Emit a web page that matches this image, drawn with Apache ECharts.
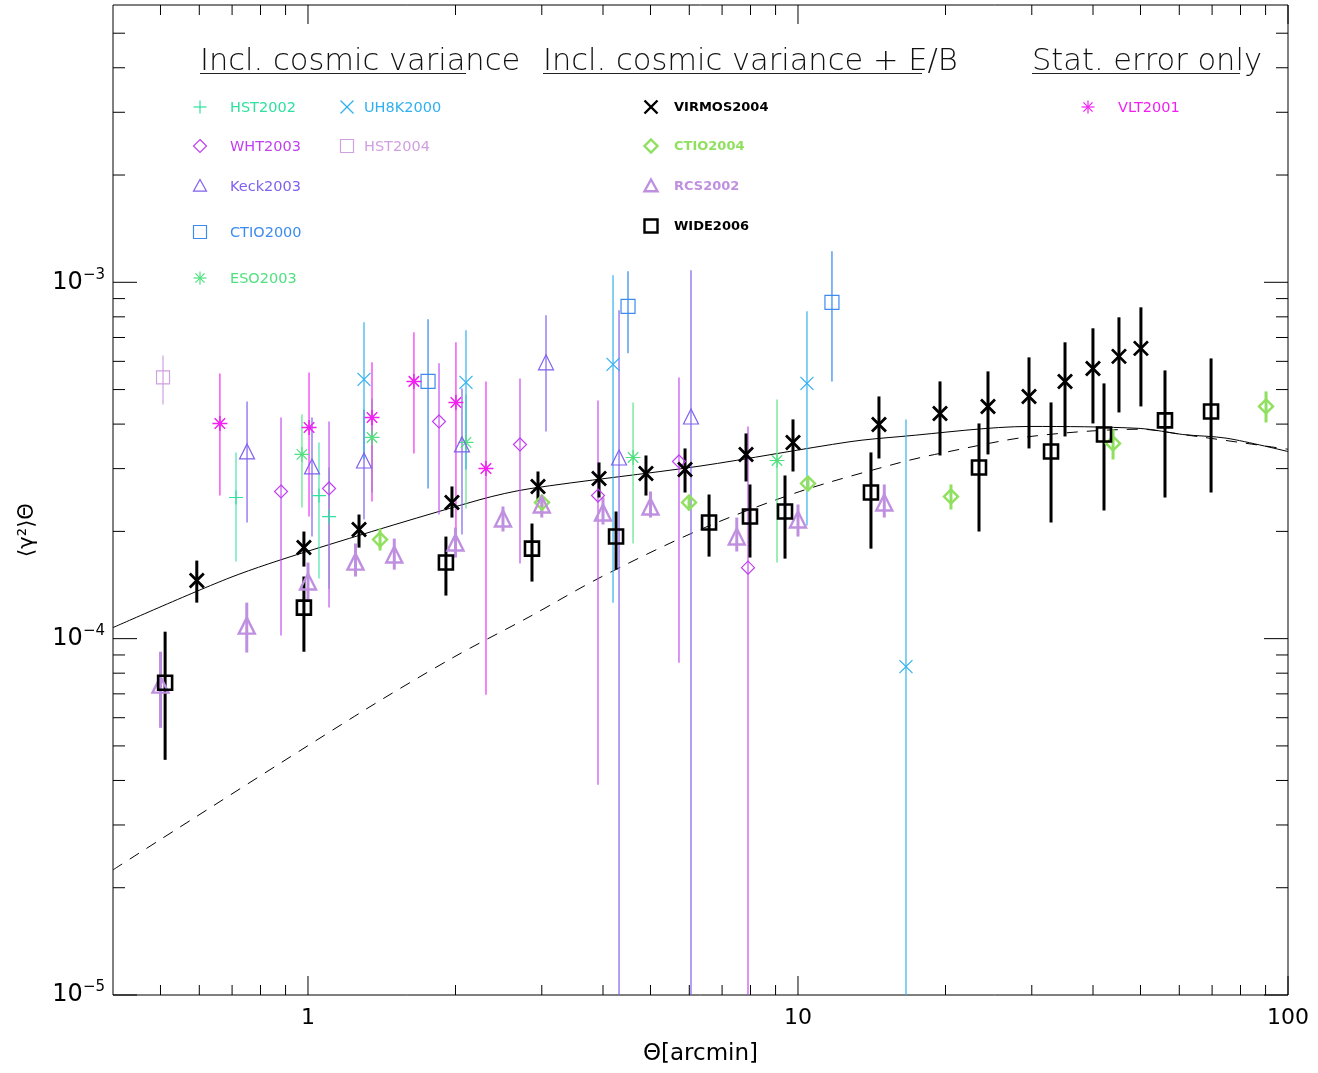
<!DOCTYPE html>
<html><head><meta charset="utf-8">
<script src="https://cdn.jsdelivr.net/npm/echarts@6/dist/echarts.min.js"></script>
<style>html,body{margin:0;padding:0;background:#fff}#c{width:1318px;height:1073px}</style>
</head><body><div id="c"></div>
<script>
// ---------- data: [theta(arcmin), <gamma^2>, lower, upper] ----------
const VIRMOS2004 = [
 [0.593,1.456e-4,1.262e-4,1.656e-4],[0.981,1.801e-4,1.593e-4,1.998e-4],[1.271,2.024e-4,1.801e-4,2.230e-4],
 [1.967,2.410e-4,2.187e-4,2.673e-4],[2.947,2.673e-4,2.426e-4,2.945e-4],[3.926,2.814e-4,2.489e-4,3.122e-4],
 [4.895,2.908e-4,2.521e-4,3.266e-4],[5.881,2.983e-4,2.571e-4,3.418e-4],[7.833,3.288e-4,2.761e-4,3.765e-4],
 [9.768,3.553e-4,2.945e-4,4.123e-4],[14.63,3.991e-4,3.203e-4,4.783e-4],[19.49,4.285e-4,3.266e-4,5.271e-4],
 [24.42,4.484e-4,3.288e-4,5.623e-4],[29.61,4.783e-4,3.418e-4,6.157e-4],[35.07,5.271e-4,3.693e-4,6.785e-4],
 [39.99,5.733e-4,4.017e-4,7.428e-4],[45.19,6.196e-4,4.313e-4,7.975e-4],[50.1,6.525e-4,4.484e-4,8.507e-4]
];
const WIDE2006 = [
 [0.511,0.752e-4,0.457e-4,1.046e-4],[0.981,1.222e-4,0.919e-4,1.494e-4],[1.912,1.635e-4,1.321e-4,1.934e-4],
 [2.865,1.789e-4,1.446e-4,2.104e-4],[4.253,1.934e-4,1.562e-4,2.274e-4],[6.584,2.118e-4,1.699e-4,2.538e-4],
 [7.980,2.201e-4,1.689e-4,2.708e-4],[9.408,2.274e-4,1.677e-4,2.870e-4],[14.09,2.571e-4,1.789e-4,3.331e-4],
 [23.41,3.022e-4,1.998e-4,4.017e-4],[32.84,3.352e-4,2.118e-4,4.601e-4],[42.12,3.741e-4,2.289e-4,5.203e-4],
 [56.10,4.097e-4,2.489e-4,5.659e-4],[69.66,4.341e-4,2.571e-4,6.115e-4]
];
const CTIO2004 = [
 [1.403,1.897e-4,1.767e-4,2.037e-4],[3.003,2.410e-4,2.289e-4,2.521e-4],[5.993,2.410e-4,2.289e-4,2.521e-4],
 [10.48,2.725e-4,2.621e-4,2.833e-4],[20.52,2.505e-4,2.303e-4,2.708e-4],[43.95,3.530e-4,3.183e-4,3.865e-4],
 [90.19,4.484e-4,4.043e-4,4.941e-4]
];
const RCS2002 = [
 [0.5,0.743e-4,0.562e-4,0.919e-4],[0.75,1.088e-4,0.914e-4,1.262e-4],[1.0,1.446e-4,1.287e-4,1.635e-4],
 [1.25,1.645e-4,1.494e-4,1.849e-4],[1.5,1.722e-4,1.562e-4,1.909e-4],[2.0,1.861e-4,1.689e-4,2.050e-4],
 [2.5,2.173e-4,1.998e-4,2.349e-4],[3.0,2.379e-4,2.187e-4,2.505e-4],[4.0,2.259e-4,2.090e-4,2.489e-4],
 [5.0,2.349e-4,2.187e-4,2.588e-4],[7.5,1.934e-4,1.756e-4,2.187e-4],[10,2.159e-4,1.934e-4,2.379e-4],
 [15,2.410e-4,2.187e-4,2.708e-4]
];
const HST2002 = [
 [0.713,2.489e-4,1.645e-4,3.331e-4],[1.053,2.521e-4,1.474e-4,3.553e-4],[1.104,2.201e-4,1.381e-4,3.022e-4]
];
const WHT2003 = [
 [0.881,2.588e-4,1.020e-4,4.176e-4],[1.104,2.639e-4,1.222e-4,4.069e-4],[1.851,4.069e-4,2.230e-4,5.923e-4],
 [2.708,3.507e-4,1.624e-4,5.374e-4],[3.907,2.521e-4,0.389e-4,4.661e-4],[5.716,3.142e-4,0.856e-4,5.409e-4],
 [7.906,1.582e-4,1e-6,3.940e-4]
];
const Keck2003 = [
 [0.751,3.352e-4,2.118e-4,4.631e-4],[1.019,3.042e-4,1.934e-4,4.176e-4],[1.301,3.162e-4,2.159e-4,4.398e-4],
 [2.062,3.507e-4,1.959e-4,5.037e-4],[3.060,5.963e-4,3.815e-4,8.077e-4],[4.313,3.224e-4,1e-6,8.344e-4],
 [6.048,4.202e-4,1e-6,10.81e-4]
];
const CTIO2000 = [
 [1.758,5.271e-4,2.639e-4,7.872e-4],[4.499,8.563e-4,6.318e-4,10.74e-4],[11.73,8.786e-4,5.271e-4,12.22e-4]
];
const UH8K2000 = [
 [1.301,5.340e-4,3.183e-4,7.720e-4],[2.101,5.237e-4,2.983e-4,7.332e-4],[4.193,5.885e-4,1.262e-4,10.46e-4],
 [10.43,5.203e-4,2.077e-4,8.290e-4],[16.61,0.8345e-4,1e-6,4.123e-4]
];
const HST2004 = [[0.506,5.409e-4,4.542e-4,6.236e-4]];
const ESO2003 = [
 [0.972,3.288e-4,2.333e-4,4.257e-4],[1.351,3.669e-4,2.571e-4,4.723e-4],[2.101,3.553e-4,2.317e-4,4.847e-4],
 [4.607,3.224e-4,1.849e-4,4.601e-4],[9.061,3.162e-4,1.635e-4,4.692e-4]
];
const VLT2001 = [
 [0.661,4.017e-4,2.521e-4,5.551e-4],[1.005,3.914e-4,2.201e-4,5.587e-4],[1.351,4.176e-4,2.426e-4,5.963e-4],
 [1.645,5.271e-4,3.309e-4,7.237e-4],[2.004,4.601e-4,1.897e-4,6.785e-4],[2.308,3.002e-4,0.696e-4,5.271e-4]
];
// model curves
const solidTheta = [0.4,0.693,1.0,2.244,2.838,6.31,12.77,16.16,29.7,49.9,61.0,75.1,100];
const solidValue = [1.074e-4,1.483e-4,1.76e-4,2.455e-4,2.636e-4,3.05e-4,3.57e-4,3.69e-4,3.94e-4,3.89e-4,3.74e-4,3.65e-4,3.35e-4];
const dashedTheta = [0.4,1.277,1.977,2.838,3.944,6.31,10.09,16.16,19.49,29.7,49.9,61.0,100];
const dashedValue = [2.245e-5,6.19e-5,8.85e-5,1.154e-4,1.484e-4,2.023e-4,2.588e-4,3.12e-4,3.31e-4,3.69e-4,3.87e-4,3.74e-4,3.40e-4];
// axis ticks
const xMajorTicks = [1,10,100];
const xMinorTicks = [0.5,0.6,0.7,0.8,0.9,2,3,4,5,6,7,8,9,20,30,40,50,60,70,80,90];
const yMajorTicks = [1e-5,1e-4,1e-3];
const yMinorTicks = [2e-5,3e-5,4e-5,5e-5,6e-5,7e-5,8e-5,9e-5,2e-4,3e-4,4e-4,5e-4,6e-4,7e-4,8e-4,9e-4,2e-3,3e-3,4e-3,5e-3];
const headers = ['Incl. cosmic variance','Incl. cosmic variance + E/B','Stat. error only'];

// ---------- styling ----------
const FONT = "'DejaVu Sans', sans-serif";
const P = {
 plus:'M0,5L10,5M5,0L5,10',
 cross:'M0,0L10,10M10,0L0,10',
 star:'M0,5L10,5M5,0L5,10M1.5,1.5L8.5,8.5M8.5,1.5L1.5,8.5',
 diamond:'M5,0L10,5L5,10L0,5Z',
 tri:'M5,0L10,9L0,9Z',
 square:'M0,0L10,0L10,10L0,10Z'
};
const sets = [
 {name:'HST2004', data:HST2004, color:'#d0a0e0', sym:'square', size:13, lw:1.2, ew:1.5, op:0.8, lx:347, tx:364, ly:146},
 {name:'HST2002', data:HST2002, color:'#30e0a0', sym:'plus', size:14, lw:1.2, ew:1.5, op:0.7, lx:200, tx:230, ly:107},
 {name:'ESO2003', data:ESO2003, color:'#50e080', sym:'star', size:15, lw:1.2, ew:1.5, op:0.75, lx:200, tx:230, ly:278},
 {name:'WHT2003', data:WHT2003, color:'#c040f0', sym:'diamond', size:13, lw:1.2, ew:1.5, op:0.75, lx:200, tx:230, ly:146},
 {name:'Keck2003', data:Keck2003, color:'#8060f0', sym:'tri', size:15, lw:1.2, ew:1.5, op:0.8, lx:200, tx:230, ly:186},
 {name:'CTIO2000', data:CTIO2000, color:'#3c8cf0', sym:'square', size:14, lw:1.2, ew:1.5, op:0.85, lx:200, tx:230, ly:232},
 {name:'UH8K2000', data:UH8K2000, color:'#30b0f0', sym:'cross', size:13, lw:1.2, ew:1.5, op:0.8, lx:347, tx:364, ly:107},
 {name:'VLT2001', data:VLT2001, color:'#f020f0', sym:'star', size:15, lw:1.5, ew:1.5, op:0.75, lx:1088, tx:1118, ly:107},
 {name:'CTIO2004', data:CTIO2004, color:'#90e060', sym:'diamond', size:14, lw:2.4, ew:3, op:1, lx:651, tx:674, ly:146, bold:true},
 {name:'RCS2002', data:RCS2002, color:'#c090e0', sym:'tri', size:16, lw:2.4, ew:3, op:1, lx:651, tx:674, ly:186, bold:true},
 {name:'WIDE2006', data:WIDE2006, color:'#000000', sym:'square', size:14, lw:2.6, ew:3, op:1, lx:651, tx:674, ly:226, bold:true},
 {name:'VIRMOS2004', data:VIRMOS2004, color:'#000000', sym:'cross', size:14, lw:2.8, ew:3, op:1, lx:651, tx:674, ly:107, bold:true}
];

const series = [];
series.push({type:'line', data:solidTheta.map((t,i)=>[t,solidValue[i]]), showSymbol:false, smooth:0.3,
  lineStyle:{color:'#000', width:1}, z:1, silent:true});
series.push({type:'line', data:dashedTheta.map((t,i)=>[t,dashedValue[i]]), showSymbol:false, smooth:0.3,
  lineStyle:{color:'#000', width:1, type:[11,9]}, z:1, silent:true});

sets.forEach((s,k)=>{
  series.push({
    type:'custom', name:s.name+' err', z:2+k*0.01, silent:true,
    data:s.data.map(r=>[r[0],r[2],r[3]]), encode:{x:0,y:[1,2]},
    renderItem:(params, api)=>{
      const cs = params.coordSys;
      const a = api.coord([api.value(0), api.value(1)]);
      const b = api.coord([api.value(0), api.value(2)]);
      const y1 = Math.min(a[1], cs.y+cs.height), y2 = Math.max(b[1], cs.y);
      return {type:'line', shape:{x1:a[0],y1:y1,x2:a[0],y2:y2}, style:{stroke:s.color, lineWidth:s.ew, opacity:s.op}};
    }
  });
  series.push({
    type:'scatter', name:s.name, z:3+k*0.01, silent:true,
    data:s.data.map(r=>[r[0],r[1]]),
    symbol:'path://'+P[s.sym], symbolSize:s.size,
    itemStyle:{color:'rgba(0,0,0,0)', borderColor:s.color, borderWidth:s.lw, opacity:1}
  });
});

// ticks on all four sides
series.push({type:'custom', z:5, silent:true,
  data:xMajorTicks.map(v=>[v,1e-3,1]).concat(xMinorTicks.map(v=>[v,1e-3,0])), encode:{x:0,y:1},
  renderItem:(params, api)=>{
    const cs = params.coordSys; const x = api.coord([api.value(0),1e-3])[0];
    const len = api.value(2) ? 19 : 10; const bot = cs.y+cs.height;
    return {type:'group', children:[
      {type:'line', shape:{x1:x,y1:bot,x2:x,y2:bot-len}, style:{stroke:'#000',lineWidth:1}},
      {type:'line', shape:{x1:x,y1:cs.y,x2:x,y2:cs.y+len}, style:{stroke:'#000',lineWidth:1}}]};
  }});
series.push({type:'custom', z:5, silent:true,
  data:yMajorTicks.map(v=>[1,v,1]).concat(yMinorTicks.map(v=>[1,v,0])), encode:{x:0,y:1},
  renderItem:(params, api)=>{
    const cs = params.coordSys; const y = api.coord([1,api.value(1)])[1];
    const len = api.value(2) ? 24 : 12; const r = cs.x+cs.width;
    return {type:'group', children:[
      {type:'line', shape:{x1:cs.x,y1:y,x2:cs.x+len,y2:y}, style:{stroke:'#000',lineWidth:1}},
      {type:'line', shape:{x1:r,y1:y,x2:r-len,y2:y}, style:{stroke:'#000',lineWidth:1}}]};
  }});

// legend symbols built from simple graphic primitives (parsed from the same symbol paths)
function symbolElems(pathStr, cx, cy, sz, color, lw){
  const out = [];
  const parts = pathStr.match(/[MLZ][^MLZ]*/g);
  let cur = null;
  const flush = (closed)=>{ if(cur && cur.length>1){ out.push({type: closed?'polygon':'polyline', shape:{points:cur},
      style:{fill:'none', stroke:color, lineWidth:lw}}); } cur=null; };
  parts.forEach(p=>{
    const c = p[0]; const nums = p.slice(1).split(',').map(Number);
    const pt = [cx - sz/2 + nums[0]*sz/10, cy - sz/2 + nums[1]*sz/10];
    if(c==='M'){ flush(false); cur=[pt]; }
    else if(c==='L'){ cur.push(pt); }
    else if(c==='Z'){ flush(true); }
  });
  flush(false);
  return out;
}

const graphics = [];
const headerPos = [[200,466],[543,922],[1032,1240]];
headers.forEach((h,i)=>{
  graphics.push({type:'text', x:headerPos[i][0], y:62, style:{text:h, fill:'#111', font:'300 30.5px '+FONT,
    align:'left', verticalAlign:'middle', textAlign:'left', textVerticalAlign:'middle'}});
  graphics.push({type:'line', shape:{x1:headerPos[i][0], y1:73.5, x2:headerPos[i][1], y2:73.5}, style:{stroke:'#222', lineWidth:1}});
});
sets.forEach(s=>{
  symbolElems(P[s.sym], s.lx, s.ly, 13, s.color, s.bold ? 2.4 : 1.2).forEach(e=>graphics.push(e));
  graphics.push({type:'text', x:s.tx, y:s.ly+1, style:{text:s.name, fill:s.color,
    font:(s.bold?'bold 13px ':'14.5px ')+FONT, align:'left', verticalAlign:'middle', textAlign:'left', textVerticalAlign:'middle'}});
});
graphics.push({type:'text', x:28, y:530, rotation:Math.PI/2, style:{text:'⟨γ²⟩Θ', fill:'#000', font:'21px '+FONT,
  align:'center', verticalAlign:'middle', textAlign:'center', textVerticalAlign:'middle'}});

const isDecade = v => { const e = Math.log10(v); return Math.abs(e-Math.round(e)) < 1e-6; };

const option = {
  animation:false,
  backgroundColor:'#fff',
  grid:{left:113, right:30, top:5, bottom:78, show:true, borderColor:'#000', borderWidth:1},
  xAxis:{type:'log', logBase:10, min:0.4, max:100,
    axisLine:{show:false}, axisTick:{show:false}, splitLine:{show:false}, minorTick:{show:false},
    axisLabel:{color:'#000', fontSize:22, fontFamily:FONT, margin:12,
      formatter:v=> isDecade(v) ? String(Math.round(v)) : ''},
    name:'Θ[arcmin]', nameLocation:'middle', nameGap:48,
    nameTextStyle:{color:'#000', fontSize:23, fontFamily:FONT}},
  yAxis:{type:'log', logBase:10, min:1e-5, max:6e-3,
    axisLine:{show:false}, axisTick:{show:false}, splitLine:{show:false}, minorTick:{show:false},
    axisLabel:{color:'#000', margin:8, fontFamily:FONT,
      formatter:v=> isDecade(v) ? '{b|10}{s|−'+(-Math.round(Math.log10(v)))+'}' : '',
      rich:{b:{fontSize:24, lineHeight:30, fontFamily:FONT, color:'#000'},
            s:{fontSize:15, lineHeight:16, verticalAlign:'top', fontFamily:FONT, color:'#000'}}}},
  series:series,
  graphic:graphics
};
const chart = echarts.init(document.getElementById('c'), null, {renderer:'canvas'});
chart.setOption(option);
</script></body></html>
